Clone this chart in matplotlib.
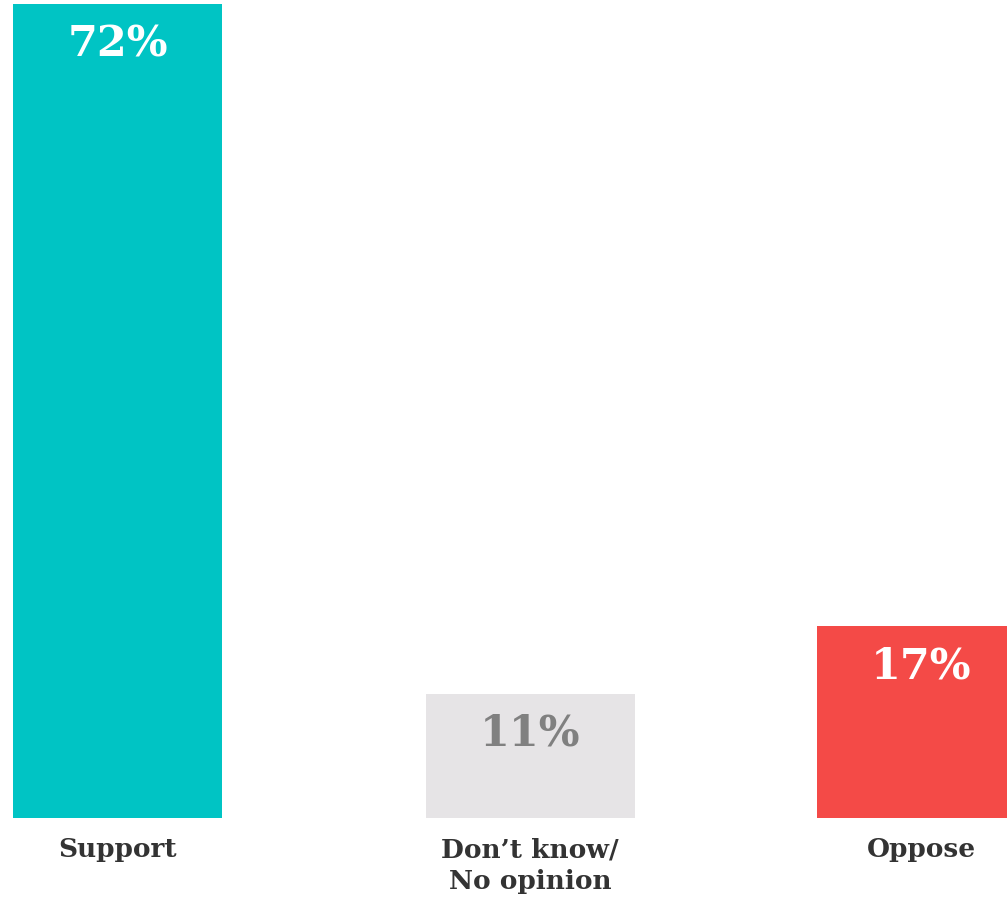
import matplotlib
matplotlib.use("Agg")
import matplotlib.pyplot as plt

# data
categories = ["Support", "Don\u2019t know/\nNo opinion", "Oppose"]
values = [72, 11, 17]
value_labels = ["72%", "11%", "17%"]

bar_colors = ["#00C4C4", "#E6E4E6", "#F44A47"]
text_colors = ["white", "#808080", "white"]

plt.rcParams["font.family"] = ["DejaVu Serif"]

W, H = 1007, 899
fig = plt.figure(figsize=(W / 100, H / 100), dpi=100)
ax = fig.add_axes([0, 81 / H, 1, 1 - 81 / H])

# bar centres in pixel units across the figure width
xpos = [117.5, 530, 921]
ax.bar(xpos, values, width=209, color=bar_colors)
ax.set_xlim(0, W)
ax.set_ylim(0, 72 * 818 / 814)
ax.axis("off")

for xi, v, lab, c in zip(xpos, values, value_labels, text_colors):
    ax.annotate(lab, (xi, v), xytext=(0, -29), textcoords="offset points",
                ha="center", va="center", fontsize=31, fontweight="bold",
                color=c)

for xi, cat in zip(xpos, categories):
    ax.annotate(cat, (xi, 0), xytext=(0, -14), textcoords="offset points",
                ha="center", va="top", fontsize=19, fontweight="bold",
                color="#333333", linespacing=1.35, annotation_clip=False)

fig.savefig("out.png", dpi=100)
